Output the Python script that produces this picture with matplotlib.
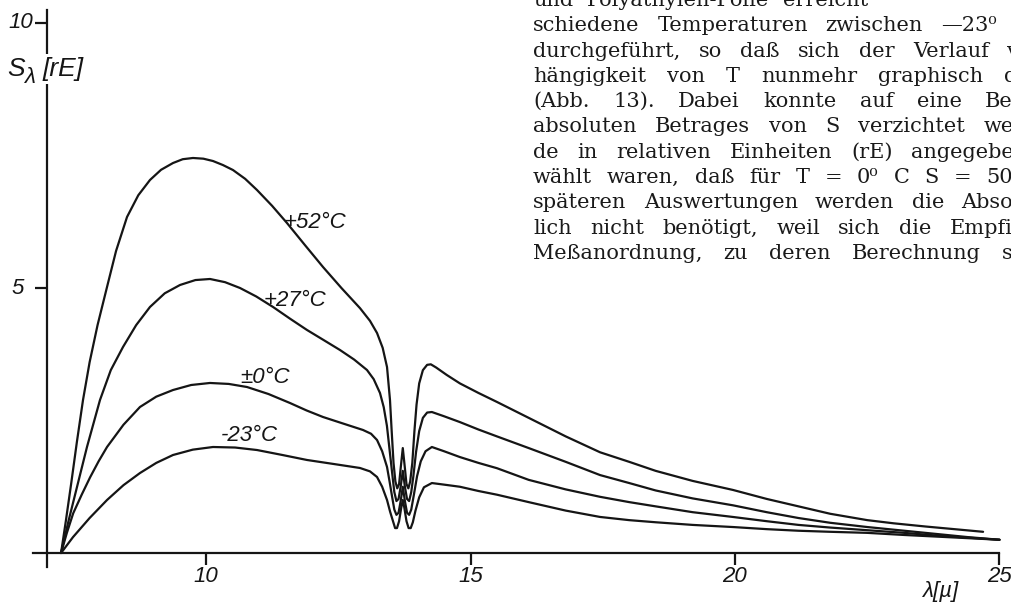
import matplotlib
matplotlib.use('Agg')
import matplotlib.pyplot as plt

W, H = 1011, 604

# ---------------- data ----------------
lam_p52 = [7.26, 7.35, 7.45, 7.56, 7.675, 7.8, 7.95, 8.129, 8.3, 8.507, 8.72, 8.941, 9.15,
           9.376, 9.56, 9.754, 9.95, 10.132, 10.32, 10.51, 10.74, 10.964, 11.25, 11.531,
           11.87, 12.212, 12.56, 12.911, 13.1, 13.233, 13.34, 13.422, 13.478, 13.51, 13.545,
           13.58, 13.615, 13.65, 13.68, 13.72, 13.76, 13.79, 13.825, 13.86, 13.9, 13.94,
           13.98, 14.03, 14.1, 14.18, 14.25, 14.35, 14.55, 14.8, 15.15, 15.5, 16.1, 16.8,
           17.45, 18.0, 18.5, 19.2, 19.96, 20.6, 21.2, 21.8, 22.5, 23.0, 23.6, 24.69]
s_p52 = [0.0, 0.6, 1.3, 2.1, 2.887, 3.6, 4.3, 5.019, 5.7, 6.34, 6.75, 7.038, 7.23,
         7.358, 7.43, 7.453, 7.44, 7.396, 7.32, 7.226, 7.06, 6.849, 6.55, 6.226,
         5.81, 5.396, 5.0, 4.62, 4.38, 4.151, 3.87, 3.509, 2.887, 2.3, 1.7,
         1.35, 1.22, 1.3, 1.6, 1.98, 1.6, 1.3, 1.22, 1.35, 1.7, 2.3,
         2.8, 3.2, 3.45, 3.55, 3.56, 3.5, 3.36, 3.2, 3.02, 2.85, 2.55, 2.2,
         1.9, 1.72, 1.55, 1.36, 1.19, 1.02, 0.88, 0.74, 0.62, 0.56, 0.5, 0.4]

lam_p27 = [7.26, 7.4, 7.55, 7.75, 7.996, 8.2, 8.431, 8.68, 8.941, 9.22, 9.509, 9.8, 10.076,
           10.36, 10.643, 10.95, 11.267, 11.59, 11.909, 12.22, 12.533, 12.8, 13.043, 13.17,
           13.289, 13.36, 13.42, 13.47, 13.52, 13.56, 13.6, 13.64, 13.68, 13.72, 13.76, 13.8,
           13.84, 13.88, 13.92, 13.97, 14.03, 14.1, 14.18, 14.27, 14.5, 14.8, 15.15, 15.5,
           16.1, 16.8, 17.45, 18.0, 18.5, 19.2, 19.96, 20.6, 21.2, 21.8, 22.5, 23.2, 23.8,
           24.4, 25.0]
s_p27 = [0.0, 0.6, 1.2, 2.0, 2.887, 3.45, 3.887, 4.3, 4.642, 4.9, 5.057, 5.15, 5.17,
         5.11, 5.0, 4.84, 4.642, 4.42, 4.208, 4.02, 3.83, 3.65, 3.453, 3.28,
         3.019, 2.75, 2.4, 1.95, 1.5, 1.15, 0.98, 1.02, 1.25, 1.55, 1.25, 1.02,
         0.98, 1.15, 1.45, 1.9, 2.3, 2.55, 2.65, 2.66, 2.58, 2.47, 2.33, 2.2,
         1.98, 1.72, 1.47, 1.32, 1.18, 1.03, 0.9, 0.77, 0.66, 0.57, 0.49, 0.42, 0.36,
         0.3, 0.25]

lam_0 = [7.26, 7.37, 7.49, 7.65, 7.81, 7.97, 8.129, 8.44, 8.752, 9.06, 9.376, 9.72, 10.076,
         10.43, 10.775, 11.18, 11.588, 11.9, 12.212, 12.6, 12.968, 13.12, 13.233, 13.33,
         13.422, 13.47, 13.52, 13.56, 13.6, 13.64, 13.68, 13.72, 13.76, 13.8, 13.84, 13.88,
         13.93, 13.99, 14.06, 14.15, 14.27, 14.5, 14.8, 15.15, 15.5, 16.1, 16.8, 17.45,
         18.0, 18.5, 19.2, 19.96, 20.6, 21.2, 21.8, 22.5, 23.2, 23.8, 24.4, 25.0]
s_0 = [0.0, 0.38, 0.75, 1.1, 1.43, 1.73, 2.0, 2.42, 2.755, 2.95, 3.075, 3.17, 3.208,
       3.19, 3.132, 3.0, 2.83, 2.69, 2.566, 2.44, 2.321, 2.25, 2.132, 1.92,
       1.623, 1.35, 1.05, 0.82, 0.72, 0.76, 0.98, 1.25, 0.98, 0.76, 0.72, 0.82,
       1.1, 1.45, 1.73, 1.92, 2.0, 1.92, 1.81, 1.7, 1.6, 1.38, 1.2, 1.06,
       0.96, 0.88, 0.77, 0.68, 0.6, 0.53, 0.48, 0.43, 0.38, 0.33, 0.29, 0.25]

lam_m23 = [7.26, 7.486, 7.8, 8.129, 8.44, 8.752, 9.06, 9.376, 9.75, 10.132, 10.55, 10.964,
           11.44, 11.909, 12.41, 12.911, 13.1, 13.233, 13.33, 13.422, 13.48, 13.535, 13.575,
           13.61, 13.65, 13.69, 13.72, 13.75, 13.79, 13.83, 13.87, 13.91, 13.96, 14.03, 14.12,
           14.27, 14.5, 14.8, 15.15, 15.5, 16.1, 16.8, 17.45, 18.0, 18.5, 19.2, 19.96, 20.6,
           21.2, 21.8, 22.5, 23.2, 23.8, 24.4, 25.0]
s_m23 = [0.0, 0.3, 0.66, 1.0, 1.28, 1.509, 1.7, 1.849, 1.95, 2.0, 1.99, 1.943,
         1.85, 1.755, 1.68, 1.604, 1.54, 1.434, 1.25, 1.0, 0.78, 0.6, 0.47,
         0.47, 0.6, 0.85, 1.0, 0.85, 0.6, 0.47, 0.47, 0.58, 0.8, 1.05, 1.24,
         1.32, 1.29, 1.25, 1.17, 1.1, 0.96, 0.8, 0.68, 0.62, 0.58, 0.53, 0.49, 0.45,
         0.42, 0.4, 0.38, 0.34, 0.31, 0.28, 0.25]

curve_labels = ['+52°C', '+27°C', '±0°C', '-23°C']
label_lam = [12.06, 11.68, 11.12, 10.83]
label_s = [6.23, 4.77, 3.32, 2.21]

x_ticks = [10, 15, 20, 25]
y_ticks = [5, 10]

text_lines = [
    "und Polyäthylen-Folie erreicht",
    "schiedene Temperaturen zwischen —23⁰ C",
    "durchgeführt, so daß sich der Verlauf von",
    "hängigkeit von T nunmehr graphisch dar",
    "(Abb. 13). Dabei konnte auf eine Be",
    "absoluten Betrages von S verzichtet we",
    "de in relativen Einheiten (rE) angegebe",
    "wählt waren, daß für T = 0⁰ C S = 50",
    "späteren Auswertungen werden die Abso",
    "lich nicht benötigt, weil sich die Empfi",
    "Meßanordnung, zu deren Berechnung s",
]
text_line_end = [None, 1030, 1045, 1040, 1013, 1014, 1014, 1013, 1013, 1013, 1013]

# ---------------- layout ----------------
fig = plt.figure(figsize=(W / 100, H / 100), dpi=100)
fig.patch.set_facecolor('white')

PX_PER_X = 52.9
PX_PER_Y = 53.0
X0 = 10 - 206 / PX_PER_X
X1 = 10 + (W - 206) / PX_PER_X
Y0 = (553 - H) / PX_PER_Y
Y1 = 553 / PX_PER_Y

ax = fig.add_axes([0, 0, 1, 1])
ax.set_xlim(X0, X1)
ax.set_ylim(Y0, Y1)
ax.patch.set_alpha(0)

INK = '#151515'
for sp in ['top', 'right']:
    ax.spines[sp].set_visible(False)
ax.spines['left'].set_position(('data', 7.0))
ax.spines['bottom'].set_position(('data', 0.0))
ax.spines['left'].set_bounds(-0.26, 10.25)
ax.spines['bottom'].set_bounds(6.73, 25.0)
for sp in ['left', 'bottom']:
    ax.spines[sp].set_linewidth(1.6)
    ax.spines[sp].set_color(INK)

SANS = ['Liberation Sans', 'DejaVu Sans']
tick_font = dict(family=SANS, style='italic', stretch='condensed', size=16)
ax.set_xticks(x_ticks)
ax.set_xticklabels([str(t) for t in x_ticks], fontdict=tick_font)
ax.set_yticks(y_ticks)
ax.set_yticklabels([])
ax.tick_params(axis='both', direction='out', length=8.5, width=1.6, color=INK,
               labelcolor=INK)
ax.tick_params(axis='x', pad=0.5)


def fx(px):
    return px / W


def fy(py):
    return 1 - py / H


# y tick labels placed next to their ticks (right edges as in the picture)
y_label_right_px = [24, 33]
for val, rpx in zip(y_ticks, y_label_right_px):
    ax.text(fx(rpx), val, str(val), transform=ax.get_yaxis_transform(),
            ha='right', va='center', color=INK, **tick_font)

for lam, s in [(lam_p52, s_p52), (lam_p27, s_p27), (lam_0, s_0), (lam_m23, s_m23)]:
    ax.plot(lam, s, color=INK, lw=1.6, solid_joinstyle='round', solid_capstyle='round')

for lab, lx, ly in zip(curve_labels, label_lam, label_s):
    ax.text(lx, ly, lab, ha='center', va='center', color=INK,
            family=SANS, style='italic', stretch='condensed', size=16)

lab_font = dict(family=SANS, style='italic', stretch='condensed', color=INK)
fig.text(fx(7), fy(76), 'S', size=19, ha='left', va='baseline', **lab_font)
fig.text(fx(24), fy(83), 'λ', size=16, ha='left', va='baseline', **lab_font)
fig.text(fx(42), fy(76), '[rE]', size=19, ha='left', va='baseline',
         bbox=dict(facecolor='white', edgecolor='none', pad=2.5), zorder=5, **lab_font)
fig.text(fx(940), fy(597), 'λ[µ]', size=16, ha='center', va='baseline', **lab_font)

# ---------------- justified text block ----------------
fig.canvas.draw()
renderer = fig.canvas.get_renderer()
serif = dict(family=['DejaVu Serif'], size=15, color='#1a1a1a')
x_left = 533
base0 = 6
step = 25.3
for i, (line, xend) in enumerate(zip(text_lines, text_line_end)):
    words = line.split(' ')
    arts = []
    widths = []
    for w_ in words:
        t = fig.text(0, 0, w_, ha='left', va='baseline', **serif)
        bb = t.get_window_extent(renderer=renderer)
        arts.append(t)
        widths.append(bb.width)
    if xend is None:
        gap = 14
    else:
        gap = (xend - x_left - sum(widths)) / max(len(words) - 1, 1)
        gap = max(gap, 6)
    x = x_left
    yb = base0 + i * step
    for t, wd in zip(arts, widths):
        t.set_position((fx(x), fy(yb)))
        x += wd + gap

fig.savefig('out.png', dpi=100, facecolor='white')
